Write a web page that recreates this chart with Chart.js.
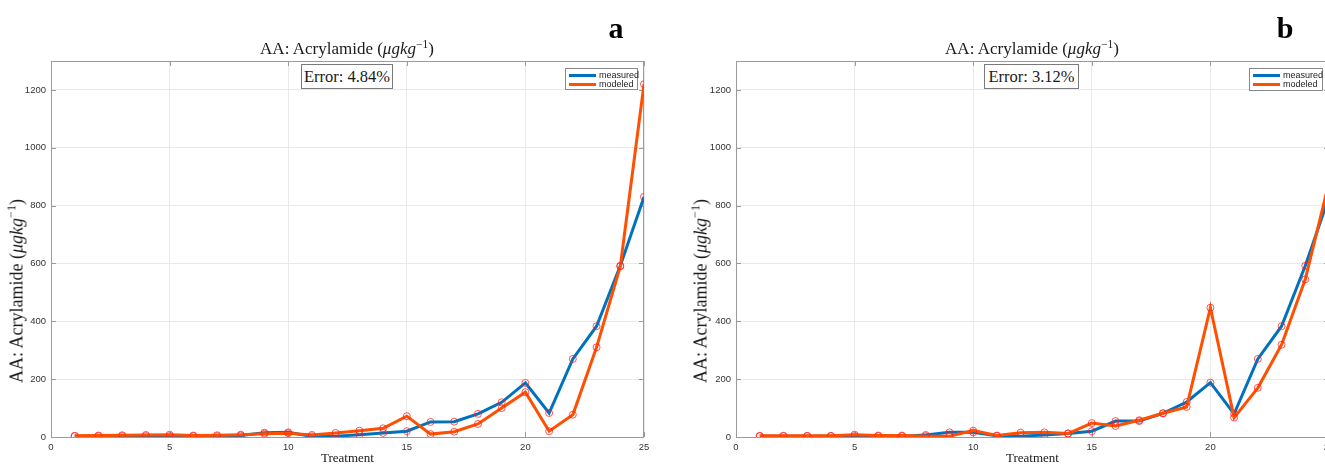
<!DOCTYPE html>
<html><head><meta charset="utf-8">
<script src="https://cdn.jsdelivr.net/npm/chart.js@4.4.1/dist/chart.umd.min.js"></script>
<style>
html,body{margin:0;padding:0;background:#fff;}
body{width:1325px;height:465px;overflow:hidden;position:relative;}
.panel{position:absolute;top:0;height:465px;}
.panel canvas{position:absolute;left:0;top:0;}
.serif{font-family:"Liberation Serif","Times New Roman",serif;color:#1a1a1a;white-space:nowrap;position:absolute;}
.ttl{font-size:17px;transform:translate(-50%,-50%);}
.ylab{font-size:18px;transform:translate(-50%,-50%) rotate(-90deg);}
.letter{font-size:30px;font-weight:bold;transform:translate(-50%,-50%);color:#000;}
.err{font-size:16.5px;border:1px solid #7a7a7a;background:#fff;box-sizing:border-box;display:flex;align-items:center;justify-content:center;}
.leg{position:absolute;border:1px solid #8a8a8a;background:#fff;box-sizing:border-box;font-family:"Liberation Sans",Arial,sans-serif;font-size:9px;color:#222;}
.leg .row{position:absolute;left:3px;height:10px;display:flex;align-items:center;}
.leg .ln{width:27px;height:3px;margin-right:3px;}
sup{font-size:68%;vertical-align:0;position:relative;top:-0.55em;}
</style>
</head><body>

<div class="panel" id="pA" style="left:0;width:660px;"><canvas id="cA" width="660" height="465"></canvas></div>
<div class="panel" id="pB" style="left:660px;width:680px;"><canvas id="cB" width="680" height="465"></canvas></div>

<div class="serif ttl" style="left:347px;top:49px;">AA: Acrylamide (<i>μgkg</i><sup>−1</sup>)</div>
<div class="serif ttl" style="left:1032px;top:49px;">AA: Acrylamide (<i>μgkg</i><sup>−1</sup>)</div>
<div class="serif ylab" style="left:17px;top:291px;">AA: Acrylamide (<i>μgkg</i><sup>−1</sup>)</div>
<div class="serif ylab" style="left:701px;top:291px;">AA: Acrylamide (<i>μgkg</i><sup>−1</sup>)</div>
<div class="serif letter" style="left:616px;top:28px;">a</div>
<div class="serif letter" style="left:1285px;top:28px;">b</div>
<div class="serif err" style="left:301px;top:64px;width:92px;height:25px;">Error: 4.84%</div>
<div class="serif err" style="left:984px;top:64px;width:95px;height:25px;">Error: 3.12%</div>

<div class="leg" style="left:565px;top:68px;width:73px;height:22px;">
  <div class="row" style="top:1px;"><div class="ln" style="background:#0072BD"></div>measured</div>
  <div class="row" style="top:10px;"><div class="ln" style="background:#FF4F00"></div>modeled</div>
</div>
<div class="leg" style="left:1249px;top:68px;width:74px;height:23px;">
  <div class="row" style="top:1px;"><div class="ln" style="background:#0072BD"></div>measured</div>
  <div class="row" style="top:10px;"><div class="ln" style="background:#FF4F00"></div>modeled</div>
</div>

<script>
// ---- data ----
const treatments = [1,2,3,4,5,6,7,8,9,10,11,12,13,14,15,16,17,18,19,20,21,22,23,24,25];
const measuredA = [3,3,3,3,3,3,3,5,15,16,2,3,8,14,20,52,53,80,120,187,83,270,383,592,830];
const modeledA  = [4,5,6,7,8,5,6,8,11,13,7,14,22,30,72,10,18,45,100,155,20,77,310,590,1220];
const measuredB = [3,3,3,3,3,3,3,7,16,16,4,3,7,12,20,55,55,82,121,188,80,270,383,592,830];
const modeledB  = [4,4,4,4,8,5,5,3,3,22,5,15,16,12,48,38,58,82,104,447,67,170,319,545,880];
const xTicks = [0,5,10,15,20,25];
const yTicks = [0,200,400,600,800,1000,1200];
const seriesNames = ['measured','modeled'];

const BLUE = '#0072BD', ORANGE = '#FF4F00';
const MARK = 'rgba(255,30,30,0.75)';

function pts(ys){ return treatments.map((x,i)=>({x:x, y:ys[i]})); }

const framePlugin = {
  id:'frame',
  beforeDatasetsDraw(chart){
    const {ctx, chartArea:a, scales:{x,y}} = chart;
    ctx.save();
    ctx.strokeStyle = '#9b9b9b';
    ctx.lineWidth = 1;
    ctx.beginPath();
    x.ticks.forEach(t=>{
      const px = Math.round(x.getPixelForValue(t.value))+0.5;
      ctx.moveTo(px,a.bottom); ctx.lineTo(px,a.bottom-5);
      ctx.moveTo(px,a.top); ctx.lineTo(px,a.top+5);
    });
    y.ticks.forEach(t=>{
      const py = Math.round(y.getPixelForValue(t.value))+0.5;
      ctx.moveTo(a.left,py); ctx.lineTo(a.left+5,py);
      ctx.moveTo(a.right,py); ctx.lineTo(a.right-5,py);
    });
    ctx.stroke();
    ctx.strokeRect(Math.round(a.left)+0.5, Math.round(a.top)+0.5, Math.round(a.right-a.left)-1, Math.round(a.bottom-a.top));
    ctx.restore();
  }
};

const tickFont = {family:'"Liberation Sans", Arial, sans-serif', size:9.5};

function makeChart(id, meas, mod, yAxisWidth, padRight){
  return new Chart(document.getElementById(id), {
    type:'line',
    data:{
      datasets:[
        {label:seriesNames[1], data:pts(mod), borderColor:ORANGE, borderWidth:3, order:1,
         pointRadius:3.5, pointBorderColor:MARK, pointBackgroundColor:'rgba(255,255,255,0)', pointBorderWidth:1, tension:0},
        {label:seriesNames[0], data:pts(meas), borderColor:BLUE, borderWidth:3, order:2,
         pointRadius:3.5, pointBorderColor:MARK, pointBackgroundColor:'rgba(255,255,255,0)', pointBorderWidth:1, tension:0}
      ]
    },
    options:{
      responsive:false, animation:false, devicePixelRatio:1,
      layout:{padding:{left:0,right:padRight,top:61,bottom:0}},
      plugins:{legend:{display:false}, tooltip:{enabled:false}, title:{display:false}},
      scales:{
        x:{type:'linear', min:0, max:25,
           afterBuildTicks(s){ s.ticks = xTicks.map(v=>({value:v})); },
           afterFit(s){ s.height = 28; },
           grid:{color:'#e9e9e9', drawTicks:false, lineWidth:1},
           border:{display:false},
           ticks:{padding:5, color:'#333', font:tickFont, maxRotation:0, callback:v=>String(v)},
           title:{display:true, text:'Treatment', color:'#1a1a1a', padding:0,
                  font:{family:'"Liberation Serif", "Times New Roman", serif', size:13, lineHeight:1}}
        },
        y:{type:'linear', min:0, max:1300,
           afterBuildTicks(s){ s.ticks = yTicks.map(v=>({value:v})); },
           afterFit(s){ s.width = yAxisWidth; },
           grid:{color:'#e9e9e9', drawTicks:false, lineWidth:1},
           border:{display:false},
           ticks:{padding:5, color:'#333', font:tickFont, callback:v=>String(v)}
        }
      }
    },
    plugins:[framePlugin]
  });
}

makeChart('cA', measuredA, modeledA, 51, 16);
makeChart('cB', measuredB, modeledB, 76, 11);
</script>
</body></html>
